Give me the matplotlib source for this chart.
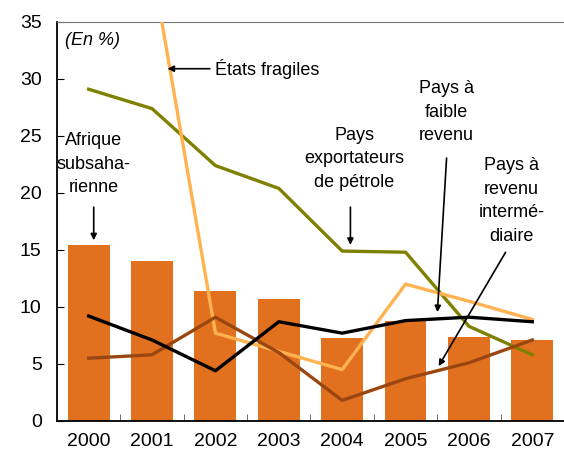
import numpy as np
import matplotlib
matplotlib.use("Agg")
import matplotlib.pyplot as plt

years = ["2000", "2001", "2002", "2003", "2004", "2005", "2006", "2007"]
afrique = [15.4, 14.0, 11.4, 10.7, 7.3, 8.8, 7.4, 7.1]
petrole = [29.1, 27.4, 22.4, 20.4, 14.9, 14.8, 8.3, 5.8]
fragiles = [np.nan, 40.0, 7.7, 6.1, 4.5, 12.0, 10.5, 8.9]
faible = [9.2, 7.1, 4.4, 8.7, 7.7, 8.8, 9.1, 8.7]
interm = [5.5, 5.8, 9.1, 6.0, 1.8, 3.7, 5.1, 7.1]
yticks = [0, 5, 10, 15, 20, 25, 30, 35]

plt.rcParams['font.family'] = ['Liberation Sans', 'DejaVu Sans']

fig = plt.figure(figsize=(5.64, 4.58), dpi=100)
ax = fig.add_axes([0.101, 0.081, 0.899, 0.871])
x = np.arange(len(years))

ax.bar(x, afrique, width=0.66, color='#E2711F', zorder=1)
ax.plot(x, petrole, color='#808000', lw=2.4, zorder=3)
ax.plot(x, fragiles, color='#FFB24F', lw=2.4, zorder=3)
ax.plot(x, faible, color='black', lw=2.4, zorder=4)
ax.plot(x, interm, color='#9A4611', lw=2.4, zorder=3)

ax.set_xlim(-0.5, 7.5)
ax.set_ylim(0, 35)
ax.set_yticks(yticks)
ax.tick_params(axis='y', direction='in', length=5, labelsize=14, pad=11)
ax.set_xticks(x)
ax.set_xticklabels(years)
ax.tick_params(axis='x', length=0, labelsize=14, pad=9)
ax.set_xticks(np.arange(0.5, 7.5, 1), minor=True)
ax.tick_params(axis='x', which='minor', direction='in', length=5, color='#555555')
ax.spines['right'].set_visible(False)
ax.spines['top'].set_color('#777777')
ax.spines['left'].set_linewidth(1.3)
ax.spines['bottom'].set_linewidth(1.3)

fs = 13
ls = 1.5
ax.text(-0.38, 33.4, "(En %)", style='italic', fontsize=fs, va='center', ha='left')

ax.annotate("États fragiles", xy=(1.2, 30.9), xytext=(2.0, 30.9),
            fontsize=fs, va='center', ha='left',
            arrowprops=dict(arrowstyle='-|>', color='black', lw=1.2, mutation_scale=9))

ax.text(0.08, 22.5, "Afrique\nsubsaha-\nrienne", fontsize=fs, ha='center', va='center',
        linespacing=ls)
ax.annotate("", xy=(0.08, 15.6), xytext=(0.08, 19.0),
            arrowprops=dict(arrowstyle='-|>', color='black', lw=1.2, mutation_scale=9))

ax.text(4.19, 23.0, "Pays\nexportateurs\nde pétrole", fontsize=fs, ha='center', va='center',
        linespacing=ls)
ax.annotate("", xy=(4.13, 15.2), xytext=(4.13, 19.0),
            arrowprops=dict(arrowstyle='-|>', color='black', lw=1.2, mutation_scale=9))

ax.text(5.64, 27.1, "Pays à\nfaible\nrevenu", fontsize=fs, ha='center', va='center',
        linespacing=ls)
ax.annotate("", xy=(5.5, 9.3), xytext=(5.65, 23.3),
            arrowprops=dict(arrowstyle='-|>', color='black', lw=1.2, mutation_scale=9))

ax.text(6.67, 19.3, "Pays à\nrevenu\nintermé-\ndiaire", fontsize=fs, ha='center', va='center',
        linespacing=ls)
ax.annotate("", xy=(5.5, 4.6), xytext=(6.6, 15.0),
            arrowprops=dict(arrowstyle='-|>', color='black', lw=1.2, mutation_scale=9))

fig.savefig("out.png", dpi=100)
